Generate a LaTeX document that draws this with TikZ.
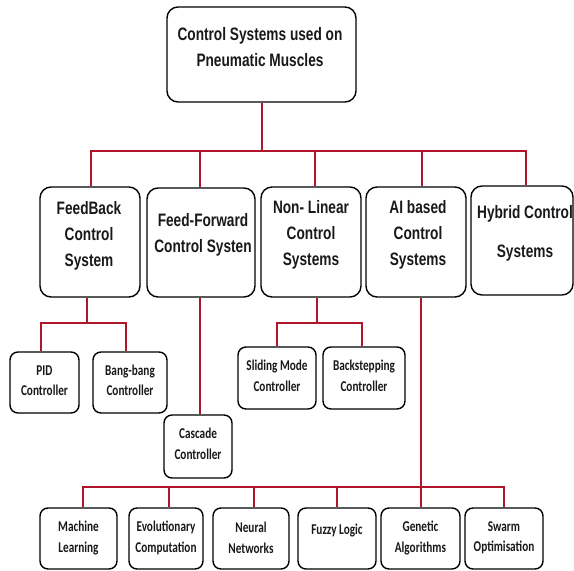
\documentclass[tikz,border=0pt]{standalone}
\usepackage{fontspec}
\newfontfamily\hdrfont[FakeStretch=0.76]{Liberation Sans}
\newfontfamily\smlfont[FakeStretch=0.75]{Carlito}
\definecolor{linkred}{RGB}{175,22,42}
\definecolor{txtgray}{RGB}{25,25,25}
\begin{document}
\begin{tikzpicture}[x=1pt,y=-1pt,
  bigbox/.style={draw=black,line width=1.4pt,fill=white,rounded corners=11pt,inner sep=0pt},
  smallbox/.style={draw=black,line width=1.4pt,fill=white,rounded corners=8pt,inner sep=0pt},
  bigtxt/.style={align=center,text=txtgray,font=\hdrfont\bfseries\fontsize{18}{26}\selectfont,inner sep=0pt},
  smltxt/.style={align=center,text=txtgray,font=\smlfont\bfseries\fontsize{15}{20.5}\selectfont,inner sep=0pt},
  link/.style={draw=linkred,line width=2pt}]
\useasboundingbox (0,0) rectangle (574,571);
\fill[white] (0,0) rectangle (574,571);

% root
\node[bigbox,minimum width=189pt,minimum height=95pt] (root) at (261.5,54.5) {};
\node[bigtxt] (roott) at (260,47.5) {Control Systems used on\\Pneumatic Muscles};

% level 2
\node[bigbox,minimum width=100pt,minimum height=110pt] (fb) at (90,242) {};
\node[bigtxt] (fbt) at (89,236) {FeedBack\\Control\\System};
\node[bigbox,minimum width=108pt,minimum height=109pt] (ff) at (201,242.5) {};
\node[bigtxt] (fft) at (203,235) {Feed-Forward\\Control Systen};
\node[bigbox,minimum width=100pt,minimum height=110pt] (nl) at (311,242) {};
\node[bigtxt] (nlt) at (311,235) {Non- Linear\\Control\\Systems};
\node[bigbox,minimum width=100pt,minimum height=110pt] (ai) at (416,242) {};
\node[bigtxt] (ait) at (418,235) {AI based\\Control\\Systems};
\node[bigbox,minimum width=102pt,minimum height=109pt] (hy) at (522,240.5) {};
\node[bigtxt] (hyt) at (525,233.5) {Hybrid Control\\[13pt]Systems};

% level 3
\node[smallbox,minimum width=69pt,minimum height=61pt] (pid) at (44.5,382.5) {};
\node[smltxt] (pidt) at (44.5,380.5) {PID\\Controller};
\node[smallbox,minimum width=74pt,minimum height=61pt] (bang) at (130,382.5) {};
\node[smltxt] (bangt) at (130,380.5) {Bang-bang\\Controller};
\node[smallbox,minimum width=68pt,minimum height=63pt] (cas) at (198,446.5) {};
\node[smltxt] (cast) at (198,444) {Cascade\\Controller};
\node[smallbox,minimum width=78pt,minimum height=62pt] (sm) at (277,378) {};
\node[smltxt] (smt) at (277,376) {Sliding Mode\\Controller};
\node[smallbox,minimum width=82pt,minimum height=62pt] (bs) at (364,378) {};
\node[smltxt] (bst) at (364,376) {Backstepping\\Controller};

% bottom row
\node[smallbox,minimum width=77pt,minimum height=61pt] (ml) at (78.5,538.5) {};
\node[smltxt] (mlt) at (78.5,538) {Machine\\Learning};
\node[smallbox,minimum width=74pt,minimum height=61pt] (ev) at (166,538.5) {};
\node[smltxt] (evt) at (166,538) {Evolutionary\\Computation};
\node[smallbox,minimum width=76pt,minimum height=61pt] (nn) at (251,538.5) {};
\node[smltxt] (nnt) at (251,538) {Neural\\Networks};
\node[smallbox,minimum width=78pt,minimum height=61pt] (fz) at (337,538.5) {};
\node[smltxt] (fzt) at (337,531) {Fuzzy Logic};
\node[smallbox,minimum width=79pt,minimum height=61pt] (ga) at (420.5,538.5) {};
\node[smltxt] (gat) at (420.5,538) {Genetic\\Algorithms};
\node[smallbox,minimum width=78pt,minimum height=61pt] (sw) at (504,538.5) {};
\node[smltxt] (swt) at (504,538) {Swarm\\Optimisation};

% junction coordinates
\coordinate (bar) at (261,151);
\coordinate (fbj) at (87,323);
\coordinate (nlj) at (317,323);
\coordinate (lowbar) at (421,487);

% main bar
\draw[link] (root.south) -- (root.south |- bar);
\draw[link] ([xshift=1pt]fb.north) |- ([xshift=4pt]hy.north |- bar) -- ([xshift=4pt]hy.north);
\draw[link] ([xshift=-1pt]ff.north) -- ([xshift=-1pt]ff.north |- bar);
\draw[link] ([xshift=4pt]nl.north) -- ([xshift=4pt]nl.north |- bar);
\draw[link] ([xshift=6pt]ai.north) -- ([xshift=6pt]ai.north |- bar);

% feedback subtree
\draw[link] ([xshift=-3pt]fb.south) -- ([xshift=-3pt]fb.south |- fbj);
\draw[link] ([xshift=-3.5pt]pid.north) |- ([xshift=-4pt]bang.north |- fbj) -- ([xshift=-4pt]bang.north);

% feed-forward subtree
\draw[link] ([xshift=-1pt]ff.south) -- ([xshift=-1pt]ff.south |- cas.north);

% non-linear subtree
\draw[link] ([xshift=6pt]nl.south) -- ([xshift=6pt]nl.south |- nlj);
\draw[link] (sm.north) |- ([xshift=-2pt]bs.north |- nlj) -- ([xshift=-2pt]bs.north);

% AI subtree
\draw[link] ([xshift=5pt]ai.south) -- ([xshift=5pt]ai.south |- ga.north);
\draw[link] ([xshift=4.5pt]ml.north) |- (sw.north |- lowbar) -- (sw.north);
\draw[link] ([xshift=3pt]ev.north) -- ([xshift=3pt]ev.north |- lowbar);
\draw[link] ([xshift=3pt]nn.north) -- ([xshift=3pt]nn.north |- lowbar);
\draw[link] (fz.north) -- (fz.north |- lowbar);
\end{tikzpicture}
\end{document}
